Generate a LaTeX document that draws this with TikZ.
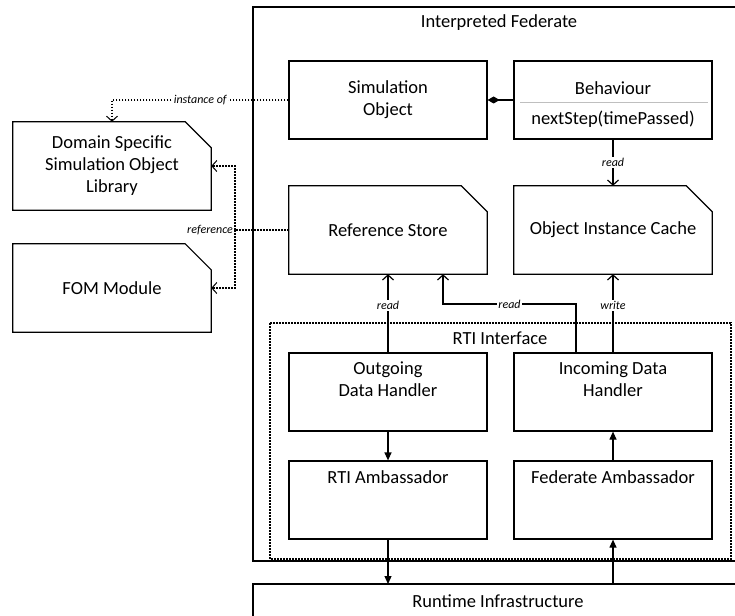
\documentclass[tikz,border=0pt]{standalone}
\usepackage{fontspec}
\setmainfont{Carlito}
\usetikzlibrary{arrows.meta}

\tikzset{
  box/.style={draw, line width=1.2pt, minimum width=198pt, minimum height=78pt, inner sep=0pt},
  cutbox/.style={minimum width=198pt, minimum height=88pt, inner sep=0pt, align=center},
  txt/.style={align=center, font=\fontsize{18.5}{22}\selectfont},
  lbl/.style={fill=white, inner sep=1.5pt, font=\fontsize{12}{14}\selectfont\itshape},
  dots/.style={line width=1.2pt, dash pattern=on 1.6pt off 1.4pt},
  flow/.style={line width=1.2pt, -{Triangle[length=8pt,width=7pt]}},
  access/.style={line width=1.2pt, -{Straight Barb[length=5pt,width=11pt]}},
  dep/.style={dots, -{Straight Barb[length=5pt,width=11pt,line width=1pt]}}
}

% box with the upper right corner cut off
\newcommand{\cutframe}[1]{%
  \draw[line width=1.2pt] (#1.north west) -- ([xshift=-26pt]#1.north east)
    -- ([yshift=-26pt]#1.north east) -- (#1.south east) -- (#1.south west) -- cycle;}

\begin{document}
\begin{tikzpicture}[x=1pt, y=-1pt, txt]
\useasboundingbox (0,0) rectangle (735,615);
\clip (0,0) rectangle (735,615);

% frames
\draw[line width=1.2pt] (253,7) rectangle (745,561);
\node (fedlabel) at (499,23) {Interpreted Federate};
\draw[dots] (270,323) rectangle (731,559);
\node (rtilabel) at (500,338) {RTI Interface};
\draw[line width=1.2pt] (253,584) rectangle (745,640);
\node (rtilabel2) at (498,601) {Runtime Infrastructure};

% object side
\node[box] (simobj) at (388,100) {};
\node (simtext) at (388,100) {Simulation\\Object};
\node[box] (beh) at (613,100) {};
\node (behname) at (613,88) {Behaviour};
\node (behop) at (613,119) {nextStep(timePassed)};
\draw[gray!50, line width=0.6pt] (520,102) -- (708,102);
\draw[line width=1.2pt, {Diamond[length=12pt,width=7pt]}-] (simobj.east) -- (beh.west);

\node[cutbox] (domlib) at (112,166) {Domain Specific\\Simulation Object\\Library};
\cutframe{domlib}
\node[cutbox] (fom) at (112,288) {FOM Module};
\cutframe{fom}
\node[cutbox] (refstore) at (388,230) {Reference Store};
\cutframe{refstore}
\node[cutbox] (cache) at (613,230) {Object Instance Cache};
\cutframe{cache}

% RTI side
\node[box] (outhandler) at (388,392) {};
\node (outtext) at (388,379) {Outgoing\\Data Handler};
\node[box] (inhandler) at (613,392) {};
\node (intext) at (613,379) {Incoming Data\\Handler};
\node[box] (rtiamb) at (388,500) {};
\node (rtiambtext) at (388,477) {RTI Ambassador};
\node[box] (fedamb) at (613,500) {};
\node (fedambtext) at (613,477) {Federate Ambassador};

% connectors
\draw[dep] (simobj.west) -| (domlib.north) node[lbl, pos=0.25] {instance of};
\coordinate (refjoin) at (235,230);
\draw[dots] (refstore.west) -- (refjoin) node[lbl, left] {reference};
\draw[dep] (refjoin) |- (domlib.east);
\draw[dep] (refjoin) |- (fom.east);

\draw[access] (beh.south) -- (cache.north) node[lbl, midway] {read};
\draw[access] (outhandler.north) -- (refstore.south) node[lbl, pos=0.6] {read};
\draw[access] (inhandler.north) -- (cache.south) node[lbl, pos=0.6] {write};
\coordinate (readbend) at (443,304);
\draw[access] ([xshift=-37pt]inhandler.north) |- (readbend) node[lbl, pos=0.75] {read}
  -- (readbend |- refstore.south);

\draw[flow] (outhandler.south) -- (rtiamb.north);
\draw[flow] (fedamb.north) -- (inhandler.south);
\draw[flow] (rtiamb.south) -- (rtiamb.south |- 0,584);
\draw[flow] (fedamb.south |- 0,584) -- (fedamb.south);
\end{tikzpicture}
\end{document}
